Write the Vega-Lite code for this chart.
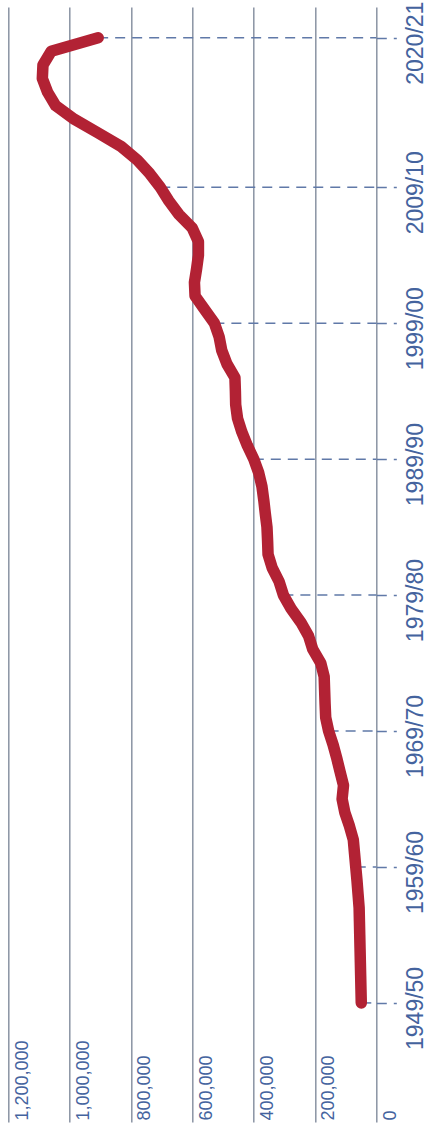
{
  "$schema": "https://vega.github.io/schema/vega-lite/v6.json",
  "width": 368,
  "height": 1115,
  "autosize": {"type": "none"},
  "padding": {"left": 8.3, "top": 7, "right": 52.7, "bottom": 13},
  "background": "white",
  "config": {"view": {"stroke": null}},
  "data": {"values": [
    {"year": 1949, "label": "1949/50", "students": 49000},
    {"year": 1950, "label": "1950/51", "students": 50000},
    {"year": 1951, "label": "1951/52", "students": 51000},
    {"year": 1952, "label": "1952/53", "students": 52000},
    {"year": 1953, "label": "1953/54", "students": 53000},
    {"year": 1954, "label": "1954/55", "students": 54000},
    {"year": 1955, "label": "1955/56", "students": 55000},
    {"year": 1956, "label": "1956/57", "students": 56000},
    {"year": 1957, "label": "1957/58", "students": 59500},
    {"year": 1958, "label": "1958/59", "students": 63000},
    {"year": 1959, "label": "1959/60", "students": 67000},
    {"year": 1960, "label": "1960/61", "students": 71000},
    {"year": 1961, "label": "1961/62", "students": 75000},
    {"year": 1962, "label": "1962/63", "students": 87500},
    {"year": 1963, "label": "1963/64", "students": 102500},
    {"year": 1964, "label": "1964/65", "students": 111500},
    {"year": 1965, "label": "1965/66", "students": 107000},
    {"year": 1966, "label": "1966/67", "students": 118000},
    {"year": 1967, "label": "1967/68", "students": 129000},
    {"year": 1968, "label": "1968/69", "students": 141000},
    {"year": 1969, "label": "1969/70", "students": 155500},
    {"year": 1970, "label": "1970/71", "students": 165000},
    {"year": 1971, "label": "1971/72", "students": 167000},
    {"year": 1972, "label": "1972/73", "students": 168500},
    {"year": 1973, "label": "1973/74", "students": 170000},
    {"year": 1974, "label": "1974/75", "students": 181000},
    {"year": 1975, "label": "1975/76", "students": 207000},
    {"year": 1976, "label": "1976/77", "students": 221000},
    {"year": 1977, "label": "1977/78", "students": 246000},
    {"year": 1978, "label": "1978/79", "students": 278000},
    {"year": 1979, "label": "1979/80", "students": 303000},
    {"year": 1980, "label": "1980/81", "students": 317000},
    {"year": 1981, "label": "1981/82", "students": 339500},
    {"year": 1982, "label": "1982/83", "students": 353000},
    {"year": 1983, "label": "1983/84", "students": 354500},
    {"year": 1984, "label": "1984/85", "students": 356500},
    {"year": 1985, "label": "1985/86", "students": 362000},
    {"year": 1986, "label": "1986/87", "students": 367000},
    {"year": 1987, "label": "1987/88", "students": 373000},
    {"year": 1988, "label": "1988/89", "students": 383500},
    {"year": 1989, "label": "1989/90", "students": 399500},
    {"year": 1990, "label": "1990/91", "students": 420500},
    {"year": 1991, "label": "1991/92", "students": 438500},
    {"year": 1992, "label": "1992/93", "students": 452500},
    {"year": 1993, "label": "1993/94", "students": 458500},
    {"year": 1994, "label": "1994/95", "students": 459500},
    {"year": 1995, "label": "1995/96", "students": 461000},
    {"year": 1996, "label": "1996/97", "students": 487000},
    {"year": 1997, "label": "1997/98", "students": 504000},
    {"year": 1998, "label": "1998/99", "students": 512500},
    {"year": 1999, "label": "1999/00", "students": 528000},
    {"year": 2000, "label": "2000/01", "students": 559500},
    {"year": 2001, "label": "2001/02", "students": 591000},
    {"year": 2002, "label": "2002/03", "students": 593000},
    {"year": 2003, "label": "2003/04", "students": 586000},
    {"year": 2004, "label": "2004/05", "students": 580000},
    {"year": 2005, "label": "2005/06", "students": 580000},
    {"year": 2006, "label": "2006/07", "students": 600000},
    {"year": 2007, "label": "2007/08", "students": 643500},
    {"year": 2008, "label": "2008/09", "students": 676500},
    {"year": 2009, "label": "2009/10", "students": 704500},
    {"year": 2010, "label": "2010/11", "students": 738500},
    {"year": 2011, "label": "2011/12", "students": 779000},
    {"year": 2012, "label": "2012/13", "students": 832000},
    {"year": 2013, "label": "2013/14", "students": 907500},
    {"year": 2014, "label": "2014/15", "students": 984500},
    {"year": 2015, "label": "2015/16", "students": 1045500},
    {"year": 2016, "label": "2016/17", "students": 1072000},
    {"year": 2017, "label": "2017/18", "students": 1089000},
    {"year": 2018, "label": "2018/19", "students": 1087000},
    {"year": 2019, "label": "2019/20", "students": 1060000},
    {"year": 2020, "label": "2020/21", "students": 907000}
  ]},
  "encoding": {
    "y": {
      "field": "year",
      "type": "quantitative",
      "scale": {"domain": [1940.24, 2022.26], "nice": false, "zero": false},
      "axis": {
        "orient": "right",
        "values": [1949, 1959, 1969, 1979, 1989, 1999, 2009, 2020],
        "labelExpr": "datum.value + '/' + slice('0' + ((datum.value + 1) % 100), -2)",
        "title": null,
        "grid": false,
        "domain": false,
        "tickSize": 20,
        "tickDash": [10, 7],
        "tickColor": "#6079a8",
        "tickWidth": 1.5,
        "labelAngle": -90,
        "labelAlign": "center",
        "labelBaseline": "middle",
        "labelPadding": 19,
        "labelOffset": 5,
        "labelFont": "Liberation Sans",
        "labelFontSize": 23,
        "labelColor": "#44639e",
        "labelFlush": false,
        "labelOverlap": false
      }
    },
    "x": {
      "field": "students",
      "type": "quantitative",
      "scale": {"domain": [0, 1200000], "reverse": true, "nice": false},
      "axis": {
        "orient": "bottom",
        "values": [0, 200000, 400000, 600000, 800000, 1000000, 1200000],
        "format": ",.0f",
        "title": null,
        "grid": true,
        "gridColor": "#8a93a3",
        "gridWidth": 1.5,
        "domain": false,
        "ticks": false,
        "tickSize": 0,
        "labelAngle": -90,
        "labelAlign": "left",
        "labelBaseline": "middle",
        "labelPadding": -2,
        "labelOffset": 14,
        "labelFont": "Liberation Sans",
        "labelFontSize": 18,
        "labelColor": "#44639e",
        "labelFlush": false,
        "labelOverlap": false
      }
    }
  },
  "layer": [
    {
      "transform": [{"filter": "indexof([1949, 1959, 1969, 1979, 1989, 1999, 2009, 2020], datum.year) >= 0"}],
      "mark": {"type": "rule", "strokeDash": [10, 7], "color": "#6079a8", "strokeWidth": 1.5},
      "encoding": {"x2": {"datum": 0}}
    },
    {
      "mark": {"type": "line", "color": "#b22234", "strokeWidth": 11.5, "strokeCap": "round", "strokeJoin": "round"},
      "encoding": {"order": {"field": "year", "type": "quantitative"}}
    }
  ]
}
